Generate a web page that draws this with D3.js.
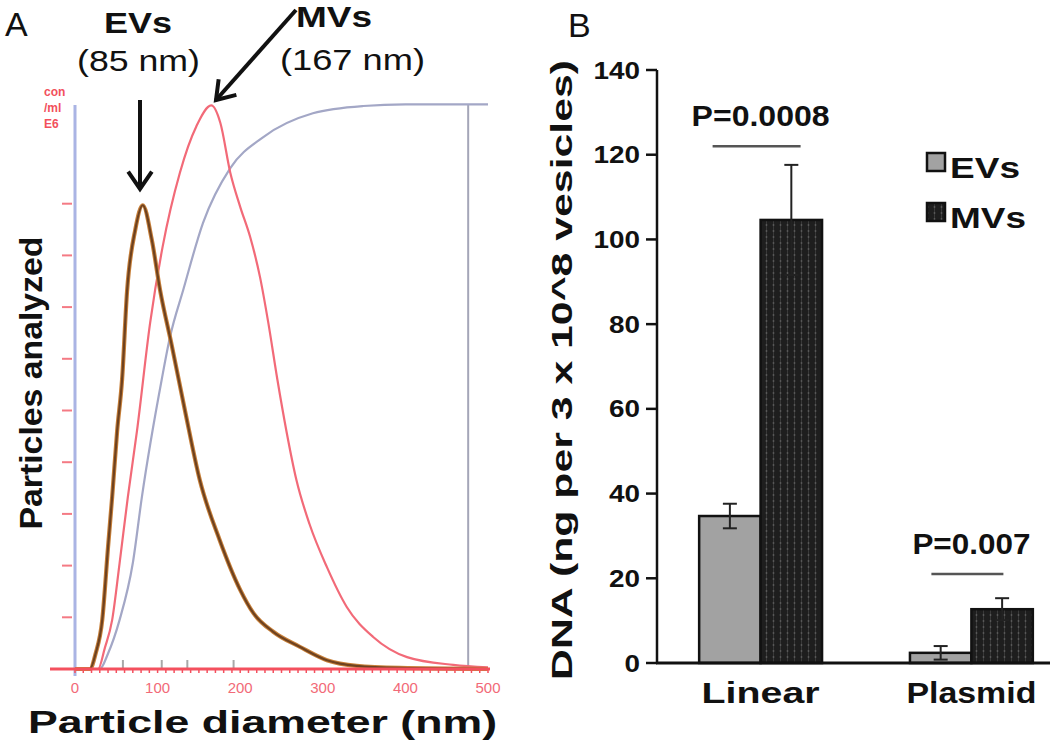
<!DOCTYPE html>
<html><head><meta charset="utf-8">
<script src="https://cdn.jsdelivr.net/npm/d3@7"></script>
<style>html,body{margin:0;padding:0;background:#fff;}svg{display:block;}</style>
</head><body>
<svg id="c" width="1050" height="749"></svg>
<script>
// ---------- Panel A data (particle diameter nm, concentration units) ----------
const evsSize = [[0,0],[18,0],[25,0.3],[33,0.95],[40,2.36],[45,3.33],[51,4.6],[57,5.6],[63,7.3],[73,8.5],[82,8.97],[93,8.3],[103,7.33],[117,6.27],[133,5.01],[151,3.66],[175,2.5],[200,1.53],[216,1.08],[240,0.72],[272,0.43],[305,0.17],[341,0.06],[393,0.02],[500,0]];
const mvsSize = [[0,0],[28,0],[36,0.4],[45,0.95],[54,2.05],[64,3.33],[75,4.6],[91,6.7],[106,8.16],[127,9.6],[147,10.5],[165,10.9],[176,10.56],[188,9.6],[200,8.94],[212,8.36],[224,7.58],[234,6.7],[245,5.6],[256,4.6],[268,3.66],[284,2.8],[305,1.97],[329,1.2],[361,0.62],[402,0.23],[458,0.08],[500,0.03]];
const cumulative = [[0,0],[30,0],[40,0.3],[54,0.95],[70,2.05],[81,3.33],[105,5.6],[115,6.42],[131,7.33],[155,8.63],[188,9.69],[228,10.29],[288,10.75],[349,10.89],[400,10.92],[500,10.92]];
const markerNm = [58, 105, 136, 192];
const cutoffNm = 476;
const xTicksA = [0,100,200,300,400,500];
const yTicksA = [1,2,3,4,5,6,7,8,9];
const unitLabel = ["con","/ml","E6"];

// ---------- Panel B data ----------
const categories = ["Linear","Plasmid"];
const groups = ["EVs","MVs"];
const evsDNA = [34.7, 2.4];
const evsErr = [2.9, 1.6];
const mvsDNA = [104.6, 12.7];
const mvsErr = [13.0, 2.6];
const yTicksB = [0,20,40,60,80,100,120,140];
const pLabels = ["P=0.0008","P=0.007"];
const pLineY = [122, 21];

const svg = d3.select("#c");
const FONT = "'Liberation Sans', Arial, sans-serif";

function txt(s, x, y, size, weight, fill, len, anchor){
  const t = svg.append("text").attr("x",x).attr("y",y).text(s)
    .attr("font-family",FONT).attr("font-size",size).attr("font-weight",weight||"normal")
    .attr("fill",fill||"#000").attr("text-anchor",anchor||"start");
  if(len){t.attr("textLength",len).attr("lengthAdjust","spacingAndGlyphs");}
  return t;
}

// ================= PANEL A =================
const xA = d3.scaleLinear().domain([0,500]).range([75,488]);
const yA = d3.scaleLinear().domain([0,10]).range([669,152]);

svg.append("line").attr("x1",xA(0)).attr("x2",xA(0)).attr("y1",676).attr("y2",105)
  .attr("stroke","#aab4e4").attr("stroke-width",3);
svg.selectAll(".yta").data(yTicksA).enter().append("line")
  .attr("x1",62).attr("x2",72).attr("y1",d=>yA(d)).attr("y2",d=>yA(d))
  .attr("stroke","#f47a84").attr("stroke-width",2);
unitLabel.forEach((s,i)=>txt(s,44,96+i*16,12,"bold","#f2505c"));

svg.append("line").attr("x1",xA(cutoffNm)).attr("x2",xA(cutoffNm))
  .attr("y1",yA(0)).attr("y2",yA(10.92)).attr("stroke","#a4a6b8").attr("stroke-width",2);

svg.selectAll(".mk").data(markerNm).enter().append("line")
  .attr("x1",d=>xA(d)).attr("x2",d=>xA(d)).attr("y1",yA(0)-9).attr("y2",yA(0))
  .attr("stroke","#a8a8a8").attr("stroke-width",2);

const lineA = d3.line().x(d=>xA(d[0])).y(d=>yA(d[1])).curve(d3.curveMonotoneX);

svg.append("path").datum(cumulative).attr("d",lineA).attr("fill","none")
  .attr("stroke","#a3a7c6").attr("stroke-width",2.2);
svg.append("path").datum(mvsSize).attr("d",lineA).attr("fill","none")
  .attr("stroke","#f26a78").attr("stroke-width",2.2);
svg.append("path").datum(evsSize).attr("d",lineA).attr("fill","none")
  .attr("stroke","#c8803a").attr("stroke-width",4.2);
svg.append("path").datum(evsSize).attr("d",lineA).attr("fill","none")
  .attr("stroke","#6e4220").attr("stroke-width",2.2);

svg.append("line").attr("x1",50).attr("x2",490).attr("y1",yA(0)).attr("y2",yA(0))
  .attr("stroke","#f4505e").attr("stroke-width",3);
const minor = d3.range(0,501,10);
svg.selectAll(".mn").data(minor).enter().append("line")
  .attr("x1",d=>xA(d)).attr("x2",d=>xA(d)).attr("y1",yA(0)).attr("y2",yA(0)+4)
  .attr("stroke","#f4505e").attr("stroke-width",1.5);
svg.selectAll(".xla").data(xTicksA).enter().append("text")
  .attr("x",d=>xA(d)).attr("y",693).text(d=>d)
  .attr("text-anchor","middle").attr("font-family",FONT).attr("font-size",15)
  .attr("fill","#f26a78");

txt("A",5,36,34,"normal","#111");
txt("EVs",104,33,30,"bold","#111",68);
txt("(85 nm)",77,71,30,"normal","#111",123);
txt("MVs",296,27,30,"bold","#111",76);
txt("(167 nm)",280,70,30,"normal","#111",145);
txt("Particle diameter (nm)",28,733,32,"bold","#111",469);
svg.append("text").text("Particles analyzed")
  .attr("transform","translate(42,383) rotate(-90)")
  .attr("text-anchor","middle").attr("font-family",FONT).attr("font-size",31)
  .attr("font-weight","bold").attr("fill","#111")
  .attr("textLength",293).attr("lengthAdjust","spacingAndGlyphs");

function arrow(x1,y1,x2,y2){
  svg.append("line").attr("x1",x1).attr("y1",y1).attr("x2",x2).attr("y2",y2)
    .attr("stroke","#111").attr("stroke-width",4);
  const a = Math.atan2(y1-y2,x1-x2), L=21, w=0.6;
  const p = [[x2+L*Math.cos(a+w), y2+L*Math.sin(a+w)],[x2,y2],[x2+L*Math.cos(a-w), y2+L*Math.sin(a-w)]];
  svg.append("path").attr("d",d3.line()(p)).attr("fill","none")
    .attr("stroke","#111").attr("stroke-width",4).attr("stroke-linejoin","miter");
}
arrow(140,100,140,189);
arrow(296,10,216,100);

// ================= PANEL B =================
const yB = d3.scaleLinear().domain([0,140]).range([663,70]);
const xB = d3.scaleBand().domain(categories).range([657,1075]).paddingInner(0.417).paddingOuter(0.2);
const xSub = d3.scaleBand().domain(groups).range([0,xB.bandwidth()]);

const defs = svg.append("defs");
const pat = defs.append("pattern").attr("id","dots").attr("patternUnits","userSpaceOnUse")
  .attr("width",7).attr("height",6);
pat.append("rect").attr("width",7).attr("height",6).attr("fill","#1e1e1e");
pat.append("rect").attr("x",3).attr("width",1).attr("height",6).attr("fill","#3a3a3a");
pat.append("circle").attr("cx",3.5).attr("cy",3).attr("r",0.9).attr("fill","#5a5a5a");

const rows = categories.map((c,i)=>({c, vals:[
  {g:"EVs",v:evsDNA[i],e:evsErr[i]},{g:"MVs",v:mvsDNA[i],e:mvsErr[i]}]}));

const gB = svg.append("g");
rows.forEach(r=>{
  r.vals.forEach(d=>{
    const x0 = xB(r.c)+xSub(d.g), w = xSub.bandwidth();
    gB.append("rect").attr("x",x0).attr("y",yB(d.v)).attr("width",w).attr("height",yB(0)-yB(d.v))
      .attr("fill",d.g==="EVs"?"#a2a2a2":"url(#dots)").attr("stroke","#111").attr("stroke-width",2.5);
    const cx = x0+w/2;
    gB.append("line").attr("x1",cx).attr("x2",cx).attr("y1",yB(d.v-d.e)).attr("y2",yB(d.v+d.e))
      .attr("stroke","#222").attr("stroke-width",2);
    [d.v+d.e, d.v-d.e].forEach(vv=>{
      gB.append("line").attr("x1",cx-7).attr("x2",cx+7).attr("y1",yB(vv)).attr("y2",yB(vv))
        .attr("stroke","#222").attr("stroke-width",2);
    });
  });
});

svg.append("line").attr("x1",657).attr("x2",657).attr("y1",yB(140)).attr("y2",yB(0)+1)
  .attr("stroke","#111").attr("stroke-width",2.5);
svg.append("line").attr("x1",656).attr("x2",1050).attr("y1",yB(0)).attr("y2",yB(0))
  .attr("stroke","#111").attr("stroke-width",3);
svg.selectAll(".ytb").data(yTicksB).enter().append("line")
  .attr("x1",646).attr("x2",657).attr("y1",d=>yB(d)).attr("y2",d=>yB(d))
  .attr("stroke","#111").attr("stroke-width",2.5);
svg.selectAll(".ytl").data(yTicksB).enter().append("text")
  .attr("x",640).attr("y",d=>yB(d)+8.5).text(d=>d)
  .attr("text-anchor","end").attr("font-family",FONT).attr("font-size",23)
  .attr("font-weight","bold").attr("fill","#111")
  .attr("textLength",d=>String(d).length*15.5).attr("lengthAdjust","spacingAndGlyphs");

const catLen = [118,130];
categories.forEach((c,i)=>{
  txt(c, xB(c)+xB.bandwidth()/2, 703, 29, "bold", "#111", catLen[i], "middle");
});

const pLen = [138,118];
categories.forEach((c,i)=>{
  const cx = xB(c)+xB.bandwidth()/2 - 4;
  const ly = yB(pLineY[i]);
  const hw = i===0 ? 44 : 36;
  svg.append("line").attr("x1",cx-hw).attr("x2",cx+hw).attr("y1",ly).attr("y2",ly)
    .attr("stroke","#555").attr("stroke-width",2.5);
  txt(pLabels[i], cx+4, ly-20, 30, "bold", "#111", pLen[i], "middle");
});

groups.forEach((g,i)=>{
  const y = 153+i*50;
  svg.append("rect").attr("x",927).attr("y",y).attr("width",18).attr("height",18)
    .attr("fill",g==="EVs"?"#a2a2a2":"url(#dots)").attr("stroke","#111").attr("stroke-width",2.5);
  txt(g, 950, y+25, 29, "bold", "#111", g==="EVs"?70:76);
});

txt("B",568,37,34,"normal","#111");
svg.append("text").text("DNA (ng per 3 x 10^8 vesicles)")
  .attr("transform","translate(572,370) rotate(-90)")
  .attr("text-anchor","middle").attr("font-family",FONT).attr("font-size",30)
  .attr("font-weight","bold").attr("fill","#111")
  .attr("textLength",620).attr("lengthAdjust","spacingAndGlyphs");
</script>
</body></html>
